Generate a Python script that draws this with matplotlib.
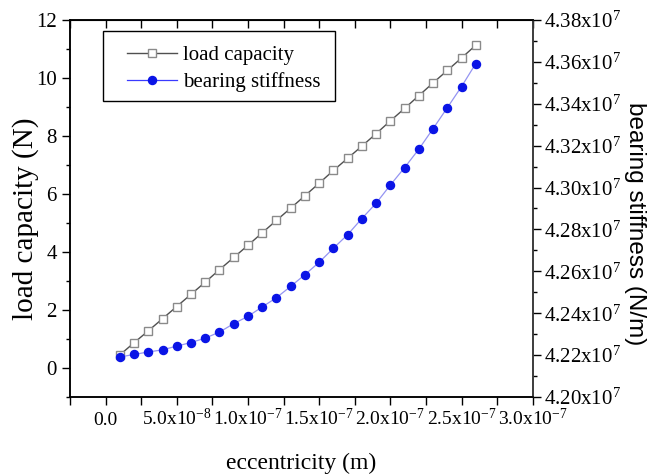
import numpy as np
import matplotlib
matplotlib.use('Agg')
import matplotlib.pyplot as plt
from matplotlib.ticker import MultipleLocator, FuncFormatter
from matplotlib.patches import Rectangle

plt.rcParams['font.family'] = ['Liberation Serif', 'DejaVu Serif']
plt.rcParams['mathtext.fontset'] = 'stix'

# eccentricity (m)
ecc = [i * 1e-8 for i in range(1, 27)]
# load capacity (N)
load = [0.45, 0.87, 1.28, 1.70, 2.12, 2.54, 2.96, 3.39, 3.81, 4.23,
        4.66, 5.09, 5.51, 5.94, 6.37, 6.81, 7.23, 7.65, 8.08, 8.52,
        8.95, 9.39, 9.83, 10.26, 10.69, 11.13]
# bearing stiffness (x1e7 N/m)
stiff = [4.2191, 4.2203, 4.2215, 4.2225, 4.2243, 4.2260, 4.2281, 4.2310,
         4.2350, 4.2385, 4.2430, 4.2474, 4.2528, 4.2584, 4.2643, 4.2710,
         4.2775, 4.2852, 4.2925, 4.3012, 4.3095, 4.3183, 4.3281, 4.3381,
         4.3482, 4.3592]
stiff_nm = [s * 1e7 for s in stiff]


def x_fmt(v, pos):
    if v < -1e-12:
        return ''
    if abs(v) < 1e-12:
        return '0.0'
    e = int(np.floor(np.log10(v) + 1e-9))
    m = v / 10 ** e
    return r'$\mathregular{%.1fx10^{%d}}$' % (m, e)


def y2_fmt(v, pos):
    return r'$\mathregular{%.2fx10^{7}}$' % (v / 1e7)


fig = plt.figure(figsize=(6.62, 4.76), dpi=100)
ax = fig.add_axes([0.1057, 0.166, 0.699, 0.792])
ax2 = ax.twinx()

l1, = ax.plot(ecc, load, color='#505050', lw=1.0, marker='s', ms=5.5,
              mfc='white', mec='#8a8a8a', mew=1.0, label='load capacity')
l2, = ax2.plot(ecc, stiff_nm, color='#9494f2', lw=0.9, marker='o', ms=5.8,
               mfc='#0a14e6', mec='#0a14e6', label='bearing stiffness')

ax.set_xlim(-2.5e-8, 3.0e-7)
ax.set_ylim(-1, 12)
ax2.set_ylim(4.20e7, 4.38e7)

ax.xaxis.set_major_locator(MultipleLocator(5e-8))
ax.xaxis.set_minor_locator(MultipleLocator(2.5e-8))
ax.xaxis.set_major_formatter(FuncFormatter(x_fmt))
ax.yaxis.set_major_locator(MultipleLocator(2))
ax.yaxis.set_minor_locator(MultipleLocator(1))
ax2.yaxis.set_major_locator(MultipleLocator(0.02e7))
ax2.yaxis.set_minor_locator(MultipleLocator(0.01e7))
ax2.yaxis.set_major_formatter(FuncFormatter(y2_fmt))

ax.tick_params(axis='x', which='both', direction='out', length=6, width=1,
               labelsize=14, pad=14.5)
ax.tick_params(axis='y', which='major', direction='out', length=6, width=1,
               labelsize=15)
ax.tick_params(axis='y', which='minor', direction='out', length=3, width=1)
ax2.tick_params(axis='y', which='major', direction='out', length=6, width=1,
                labelsize=15, pad=2)
ax2.tick_params(axis='y', which='minor', direction='out', length=3, width=1)
# put all x tick labels on one baseline (superscripts would push some down)
plt.setp(ax.get_xticklabels(), va='baseline')

# inward ticks on the top edge
top = ax.secondary_xaxis('top')
top.xaxis.set_major_locator(MultipleLocator(2.5e-8))
top.tick_params(axis='x', direction='in', length=6, width=1, labeltop=False)

for a in (ax, ax2):
    for s in a.spines.values():
        s.set_linewidth(1.1)
ax2.spines['right'].set_color('#444444')

ax.set_xlabel('eccentricity (m)', fontsize=17, va='center')
ax.xaxis.set_label_coords(0.5, -0.175)
ax.set_ylabel('load capacity (N)', fontsize=21, va='center')
ax.yaxis.set_label_coords(-0.097, 0.472)
ax2.set_ylabel('bearing stiffness (N/m)', fontsize=17.5, rotation=270,
               va='center', family=['Liberation Sans', 'DejaVu Sans'])
ax2.yaxis.set_label_coords(1.222, 0.459)

# legend box drawn separately so the inner padding can match
ax2.add_patch(Rectangle((0.0706, 0.785), 0.502, 0.186,
                        transform=ax2.transAxes, facecolor='white',
                        edgecolor='black', lw=1.0, zorder=5))
leg = ax2.legend(handles=[l1, l2], loc='upper left',
                 bbox_to_anchor=(0.108, 0.952), borderaxespad=0,
                 frameon=False, fontsize=15, handlelength=2.4,
                 handletextpad=0.3, labelspacing=0.35, borderpad=0.35)
leg.set_zorder(6)
leg.legend_handles[1].set_color('#3a3aff')
leg.legend_handles[1].set_markerfacecolor('#0a14e6')

fig.savefig('out.png', dpi=100)
